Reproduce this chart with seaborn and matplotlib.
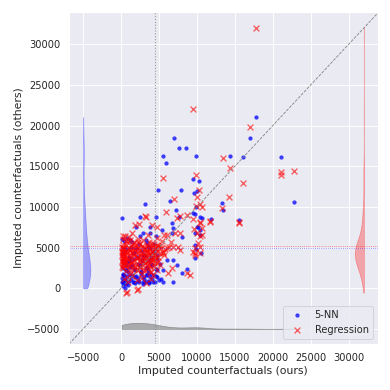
import numpy as np
import matplotlib
matplotlib.use("Agg")
import matplotlib.pyplot as plt
import seaborn as sns

# 5-NN imputations: x = ours, y = others
knn_x = [17760, 16970, 9510, 6970, 7630, 8510, 5570, 9870, 14340, 13250, 5880, 10260, 4820,
         7890, 10040, 9600, 6450, 13460, 16010, 21140, 22800, 15530, 3200, 10620, 9870, 10400,
         11800, 9740, 10400, 9960, 10400, 9740, 9700, 9870, 10530, 9740, 9510, 10180,
         5440, 6890, 6750, 7630, 7200, 4570, 6750, 7990, 6100, 6800, 7330, 7990, 8730, 5570,
         5570, 6800, 4690, 4690, 4570,
         175, 2500, 1930, 3820, 2850, 3820, 1180, 100, 395, 1630, 300, 1180, 530, 530, 2410,
         3160, 3730, 4440, 1630, 300, 1850, 2940, 3380, 3820, 4390, 800, 1500, 2200, 2700, 3300,
         4000, 4300, 3500, 2000, 1000, 600, 2600, 3600, 1200, 250, 250, 200, 900, 4800, 2900, 3900,
         150, 350, 600, 850, 1100, 1400, 1700, 2000, 2300, 2650, 2950, 3250, 3550, 3900, 4200, 4600, 5000,
         200, 450, 700, 950, 1250, 1550, 1800, 2100, 2450, 2750, 3050, 3400, 3700, 4050, 4550, 5200,
         300, 650, 1000, 1350, 1650, 2050, 2400, 2800, 3150, 3450, 3850, 4150, 4700,
         250, 550, 900, 1300, 1750, 2200, 2600, 3000, 3500, 4100,
         400, 800, 1500, 2500, 3300, 4400, 150, 700, 1900, 2900, 3700, 5300, 600, 1200]
knn_y = [21030, 18500, 13440, 18450, 17260, 17260, 16310, 16310, 16270, 10450, 15370, 13160, 12090,
         12090, 11970, 11720, 10700, 9600, 16190, 16190, 10650, 8400, 10370, 8680, 10000, 8810,
         8490, 9140, 7170, 7500, 6560, 6770, 5330, 4800, 4300, 3690, 9220, 7580,
         7170, 7370, 8070, 8810, 9630, 8730, 6760, 6350, 3480, 3480, 2870, 1840, 2340, 2250,
         810, 730, 4100, 2250, 6470,
         8610, 8730, 7500, 7500, 6760, 6760, 5940, 6100, 4500, 4370, 1640, 1640, 1020, 0, 810,
         810, 810, 810, 810, 610, 1430, 1430, 1640, 1430, 1640, 3200, 2800, 3000, 3600, 2500,
         3000, 4600, 5200, 4800, 3900, 2200, 2000, 2300, 2600, 900, 1800, 3500, 400, 1400, 4000, 3800,
         800, 1600, 700, 1500, 850, 1650, 750, 1550, 900, 1700, 800, 1600, 900, 1700, 800, 1500, 1000,
         2500, 3100, 2300, 3400, 2700, 3600, 2200, 3900, 2900, 3300, 4100, 2600, 3500, 2900, 2400, 3000,
         4200, 4800, 3700, 5100, 4300, 3800, 5400, 4600, 4000, 5600, 4900, 4400, 3600,
         300, 1200, 2000, 1100, 2400, 1300, 2100, 1200, 1900, 1100,
         5800, 6200, 5700, 6400, 5900, 5500, 1300, 500, 600, 500, 700, 1200, 2800, 3300]

# Regression imputations
reg_x = [17760, 16970, 9510, 6970, 7770, 8640, 5570, 9870, 14340, 13380, 5920, 10260, 4700,
         7770, 10040, 9510, 7330, 13250, 14250, 16010, 21050, 21140, 22800, 15530, 15530, 3300,
         10620, 9870, 10400, 11710, 11710, 10620, 9960, 10400, 9650, 10620, 9740, 10400, 10400,
         9740, 9510, 9740, 10180, 10400, 10400,
         7140, 5630, 5130, 6000, 6890, 7550, 7770, 5570, 5130, 6670, 6230, 8640, 4690, 9080,
         2410, 4040, 1840, 3160, 1400, 530, 220, 930, 2260, 3730, 2940, 4260, 220, 220, 220, 395,
         930, 1180, 1630, 2070, 2730, 3160, 3380, 3820, 4260, 2940, 3820, 2260, 1180, 750, 750,
         2260, 4260, 660, 2060, 1180,
         300, 500, 700, 1000, 1300, 1600, 1900, 2300, 2600, 2900, 3400, 3700, 4100, 4500, 4800,
         1400, 1800, 2500, 3100, 4000, 4600, 500, 200, 1100, 3600, 2000, 250, 250,
         100, 400, 700, 1000, 1300, 1600, 1900, 2200, 2500, 2800, 3100, 3400, 3700, 4000, 4300,
         4600, 4900, 5300, 5800, 6300,
         250, 550, 850, 1150, 1450, 1750, 2050, 2350, 2650, 2950, 3250, 3550, 3850, 4150, 4450,
         4750, 5100, 5600,
         150, 450, 750, 1050, 1350, 1650, 1950, 2250, 2550, 2850, 3150, 3450, 3750, 4050, 4350, 4850,
         300, 650, 1000, 1350, 1700, 2050, 2400, 2750, 3100, 3500, 3900, 4300, 4800,
         400, 900, 1500, 2100, 2700, 3300, 4000,
         200, 600, 1100, 1700, 2300, 2900, 3500, 4100, 4700, 5400, 6000, 6600,
         150, 200, 250, 180, 220, 300, 160, 280,
         3000, 3600, 4200, 2600, 1900, 4500, 3300, 2200, 1200, 3900, 4900, 5500]
reg_y = [32050, 19880, 22020, 10950, 8930, 9020, 13570, 13940, 14800, 16030, 9350, 12090, 7580,
         6760, 11190, 8490, 8610, 9840, 11270, 12990, 14340, 13900, 14430, 8000, 8200, 8730,
         10040, 10120, 8000, 8320, 8120, 7410, 6770, 6430, 7260, 6560, 4920, 5040, 4330,
         4300, 4500, 4100, 5530, 10400, 8200,
         6760, 6560, 5200, 4900, 5120, 5120, 4740, 4330, 2910, 2460, 1930, 1840, 3090, 1640,
         7910, 7790, 7790, 8890, 6760, 6430, 6430, 5860, 5730, 5730, 5120, 5120, 4740, 4120, 3710, 3300,
         3500, 4120, 2910, 3710, 3300, 3910, 2910, 4330, 3500, 2250, 2050, 2250, 2250, 1430, -410,
         -120, 1640, -540, -200, 5940,
         5000, 4500, 3900, 4700, 5200, 4000, 4600, 5000, 4300, 3800, 4700, 5200, 4500, 4900, 5300,
         3200, 2600, 2700, 3100, 2600, 3700, 2900, 3000, 3000, 3400, 5300, 4400, 5300,
         5100, 4900, 5300, 5000, 4800, 5400, 5100, 4900, 5500, 5200, 5000, 5300, 4800, 5100, 5400,
         4900, 5200, 5000, 4800, 5100,
         4300, 4100, 4500, 3900, 4400, 4200, 3800, 4600, 4000, 4300, 4500, 3900, 4200, 4400, 4000,
         4600, 4300, 4100,
         3400, 3100, 3600, 2900, 3300, 3500, 3000, 3700, 3200, 2800, 3500, 3300, 2900, 3600, 3100, 3400,
         2500, 2100, 2700, 1900, 2400, 2200, 2600, 1800, 2300, 2500, 2000, 2700, 2200,
         1200, 800, 1500, 1000, 1300, 700, 1100,
         6000, 5800, 6300, 5700, 6100, 5900, 6500, 5600, 6200, 5800, 6600, 5700,
         2600, 3200, 3900, 4500, 5000, 2900, 4100, 3600,
         4700, 4400, 3700, 3600, 4800, 4200, 4000, 4300, 4600, 3300, 3800, 4500]


def kde_curve(values, n_grid=300):
    """Gaussian KDE (Scott bandwidth) evaluated on the data range."""
    v = np.asarray(values, dtype=float)
    bw = v.std(ddof=1) * len(v) ** (-1 / 5)
    grid = np.linspace(v.min(), v.max(), n_grid)
    dens = np.exp(-0.5 * ((grid[:, None] - v[None, :]) / bw) ** 2).sum(axis=1)
    dens /= len(v) * bw * np.sqrt(2 * np.pi)
    return grid, dens


def main():
    sns.set_theme(style="darkgrid")

    fig, ax = plt.subplots(figsize=(6, 6))
    fig.subplots_adjust(left=0.177, right=0.968, bottom=0.118, top=0.970)

    sns.scatterplot(x=knn_x, y=knn_y, color="blue", marker="o", s=22, alpha=0.75,
                    linewidth=0, label="5-NN", ax=ax)
    sns.scatterplot(x=reg_x, y=reg_y, color="red", marker="x", s=42, alpha=0.6,
                    linewidth=1.5, label="Regression", ax=ax)

    # marginal densities drawn inside the axes
    all_x = np.concatenate([knn_x, reg_x])
    gy, dy = kde_curve(knn_y)
    ax.fill_betweenx(gy, -5000, -5000 + dy / dy.max() * 950, color="blue", alpha=0.3,
                     edgecolor="blue", linewidth=0.8)
    ry, dr = kde_curve(reg_y)
    ax.fill_betweenx(ry, 32000 - dr / dr.max() * 1200, 32000, color="red", alpha=0.3,
                     edgecolor="red", linewidth=0.8)
    gx, dx = kde_curve(all_x)
    ax.fill_between(gx, -5000, -5000 + dx / dx.max() * 750, color="gray", alpha=0.6,
                    edgecolor="dimgray", linewidth=0.8)

    # means
    ax.axvline(np.mean(all_x), color="gray", linestyle=":", linewidth=1.2, alpha=0.8)
    ax.axhline(np.mean(reg_y), color="red", linestyle=":", linewidth=0.9, alpha=0.6)
    ax.axhline(np.mean(knn_y), color="blue", linestyle=":", linewidth=0.9, alpha=0.6)

    ax.set_xlim(-6850, 33800)
    ax.set_ylim(-6850, 34000)
    ax.axline((0, 0), slope=1, color="gray", linestyle="--", linewidth=0.9)

    ax.set_xlabel("Imputed counterfactuals (ours)")
    ax.set_ylabel("Imputed counterfactuals (others)")
    ax.legend(loc="lower right")

    fig.savefig("out.png", dpi=65)
    plt.close(fig)


if __name__ == "__main__":
    main()
